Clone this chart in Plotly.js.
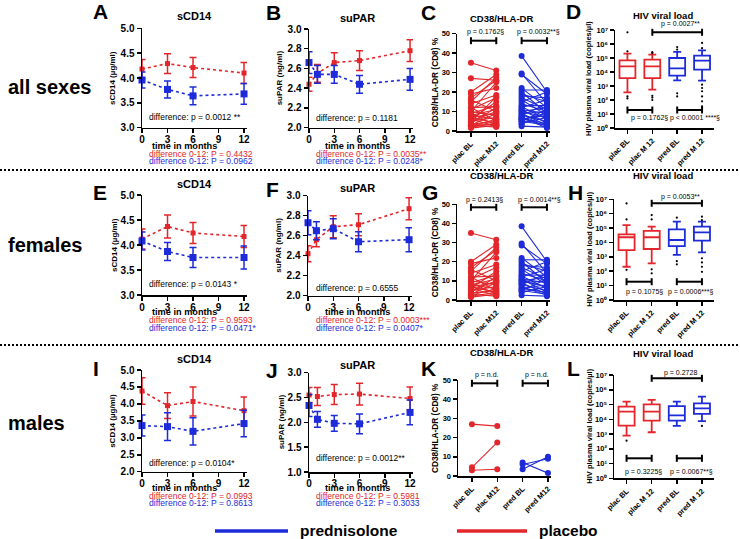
<!DOCTYPE html>
<html><head><meta charset="utf-8">
<script src="https://cdn.plot.ly/plotly-3.0.1.min.js"></script>
<style>html,body{margin:0;padding:0;background:#fff}#chart{width:740px;height:539px}</style>
</head><body><div id="chart"></div>
<script>
const RED='#e3262b', BLUE='#1d2bd9';
const FONT='Liberation Sans, Arial, sans-serif';
const W=740, H=539;

// ---- time courses ----
const monthsCD14=[0,3,6,12];
const monthsPAR=[0,1,3,6,12];
const monthTicks=[0,3,6,9,12];
// all sexes
const A_plac=[4.18,4.29,4.21,4.10], A_placErr=[0.19,0.20,0.20,0.21];
const A_pred=[3.96,3.77,3.64,3.68], A_predErr=[0.16,0.17,0.18,0.21];
const B_plac=[2.44,2.55,2.66,2.68,2.78], B_placErr=[0.07,0.09,0.10,0.10,0.11];
const B_pred=[2.66,2.54,2.54,2.44,2.49], B_predErr=[0.11,0.09,0.09,0.09,0.11];
// females
const E_plac=[4.12,4.37,4.24,4.17], E_placErr=[0.20,0.23,0.21,0.22];
const E_pred=[4.08,3.87,3.75,3.75], E_predErr=[0.18,0.18,0.20,0.23];
const F_plac=[2.42,2.56,2.69,2.71,2.87], F_placErr=[0.08,0.07,0.11,0.11,0.11];
const F_pred=[2.73,2.65,2.67,2.54,2.56], F_predErr=[0.12,0.09,0.10,0.10,0.12];
// males
const I_plac=[4.38,3.95,4.07,3.80], I_placErr=[0.39,0.38,0.43,0.40];
const I_pred=[3.36,3.33,3.19,3.42], I_predErr=[0.31,0.41,0.40,0.39];
const J_plac=[2.55,2.52,2.56,2.57,2.48], J_placErr=[0.15,0.18,0.20,0.22,0.23];
const J_pred=[2.34,2.06,1.98,1.97,2.20], J_predErr=[0.22,0.16,0.16,0.20,0.25];

// ---- CD38/HLA-DR paired values (%) ----
const pairLabels=['plac BL','plac M12','pred BL','pred M12'];
const C_placBL =[35,27,20,19,17,16,15,14,12,12,11,10,10,9,9,8,8,7,7,6,6,5,5,4.5,4,3.5,3,3,3,2.5,2,1.5];
const C_placM12=[31,26,29,22,26,10,27.5,18.5,12.5,5,17,25,8,13,3,11,6,9,4,15,2.5,7,10,17.5,12,5,9,2,3.5,6,4,3];
const C_predBL =[38.5,29.5,29,22,21,20,19,18,17,16,15,14,13,12.5,12,11,11,10,10,9,9,8,8,7,7,6,6,6,5,5,4,3.5,2.5];
const C_predM12=[20,14,19,12,21,9,15,17,11,8,20,10,13,6,16,9,4,12,7,3,10,5,14,2.5,1.5,8,4,9,11,3,7,10,2];
const G_placBL =[35,20,19,17,16,15,14,12,12,11,10,10,9,9,8,8,7,7,6,6,5,5,4,3.5,3,3,2.5,2,1.5];
const G_placM12=[31.5,29,22,26,10,27.5,18.5,12.5,5,17,25,8,13,3,11,6,9,4,15,2.5,7,10,12,5,9,2,6,4,3];
const G_predBL =[38.5,29.5,28.5,22,21,20,19,18,17,16,15,14,13,12.5,12,11,11,10,10,9,9,8,8,7,6,6,5,5,4,2.5];
const G_predM12=[20,14,19,12,21,9,15,17,11,8,20,10,13,6,16,9,4,12,7,3,10,5,14,2.5,8,4,11,3,7,2];
const K_placBL =[27,4.5,3];
const K_placM12=[26,17.5,3.5];
const K_predBL =[7,6,3.5];
const K_predM12=[1.5,9,10];

// ---- HIV viral load boxes (copies/µl): plac BL, plac M12, pred BL, pred M12 ----
const boxLabels=['plac BL','plac M 12','pred BL','pred M 12'];
const logTickText=['10⁰','10¹','10²','10³','10⁴','10⁵','10⁶','10⁷'];
const D_lo=[355,550,2500,2400], D_q1=[3700,3700,5500,14800], D_med=[25000,25000,18000,65000], D_q3=[67600,76000,100000,148000], D_hi=[204000,174000,270000,355000];
const D_out=[[6.8e6,3.0e5,180,130],[2.6e5,2.2e5,200,150,100],[6.0e5,4.0e5,300,180],[1.2e6,5.0e5,1250,720,420,180,80,35]];
const H_lo=[204,355,1350,2040], H_q1=[2950,3500,5600,13200], H_med=[23000,23000,14800,50000], H_q3=[36000,63000,81000,126000], H_hi=[162000,126000,282000,282000];
const H_out=[[5.2e6,4.0e5,126],[8.0e5,4.0e5,135,71],[5.3e5,500,300],[6.2e5,3.6e5,800,410,204,91]];
const L_lo=[776,1320,3550,7600], L_q1=[3700,8100,8100,23000], L_med=[33000,33000,18600,55000], L_q3=[72000,102000,79000,120000], L_hi=[155000,204000,155000,340000];
const L_out=[[355],[],[],[3550]];

const layout={width:W,height:H,margin:{l:0,r:0,t:0,b:0},paper_bgcolor:'#fff',plot_bgcolor:'rgba(0,0,0,0)',
  showlegend:false,boxmode:'overlay',font:{family:FONT,color:'#000'},annotations:[],shapes:[]};
const traces=[];
const xid=n=>n===1?'x':'x'+n, yid=n=>n===1?'y':'y'+n;
const tf=(s)=>({family:FONT,size:s,color:'#000',weight:700});

function axes(n,b,xo,yo){
  const common={showline:true,linecolor:'#000',linewidth:1.5,ticks:'outside',ticklen:4,tickwidth:1.5,tickcolor:'#000',
    showgrid:false,zeroline:false,automargin:false,fixedrange:true};
  layout['xaxis'+(n===1?'':n)]=Object.assign({},common,{domain:[b[0]/W,b[1]/W],anchor:yid(n)},xo);
  layout['yaxis'+(n===1?'':n)]=Object.assign({},common,{domain:[1-b[3]/H,1-b[2]/H],anchor:xid(n)},yo);
}
function txt(text,x,y,size,opt={}){
  layout.annotations.push(Object.assign({text:text,x:x/W,y:1-y/H,xref:'paper',yref:'paper',showarrow:false,
    xanchor:'center',yanchor:'middle',font:{family:FONT,size:size,color:opt.color||'#000',weight:opt.bold?700:400}},opt.extra||{}));
}
function bracket(n,xa,xb,ypx){
  const ln={color:'#000',width:2};
  layout.shapes.push({type:'line',xref:xid(n),yref:'paper',x0:xa,x1:xb,y0:1-ypx/H,y1:1-ypx/H,line:ln});
  [xa,xb].forEach(v=>layout.shapes.push({type:'line',xref:xid(n),yref:'paper',x0:v,x1:v,y0:1-(ypx-3.5)/H,y1:1-(ypx+3.5)/H,line:ln}));
}
function series(n,x,y,e,color,size){
  return {type:'scatter',mode:'lines+markers',x:x,y:y,xaxis:xid(n),yaxis:yid(n),cliponaxis:false,
    line:{color:color,width:1.6,dash:'dot'},marker:{color:color,symbol:'square',size:size},
    error_y:{type:'data',array:e,visible:true,color:color,thickness:1.5,width:3.5}};
}
function timePanel(n,b,months,pv,pe,bv,be,yr,dt,so){
  axes(n,b,{range:[0,12.35],tickmode:'array',tickvals:monthTicks,ticktext:monthTicks.map(String),tickfont:tf(10),ticklabelstandoff:so},
    {range:yr,tick0:yr[0],dtick:dt,tickformat:'.1f',tickfont:tf(10)});
  traces.push(series(n,months,pv,pe,RED,5));
  traces.push(series(n,months,bv,be,BLUE,7));
}
function pairTrace(n,bl,m12,x0,color){
  const xs=[],ys=[];
  bl.forEach((v,i)=>{xs.push(x0,x0+1,null);ys.push(v,m12[i],null);});
  return {type:'scatter',mode:'lines+markers',x:xs,y:ys,xaxis:xid(n),yaxis:yid(n),cliponaxis:false,
    line:{color:color,width:1.1},marker:{color:color,size:6}};
}
function pairPanel(n,b,pBL,pM,dBL,dM){
  axes(n,b,{range:[-0.55,3.12],tickmode:'array',tickvals:[0,1,2,3],ticktext:pairLabels,tickangle:-45,tickfont:tf(7.5)},
    {range:[0,50],dtick:10,tickfont:tf(7.5)});
  traces.push(pairTrace(n,pBL,pM,0,RED));
  traces.push(pairTrace(n,dBL,dM,2,BLUE));
}
function boxPanel(n,b,lo,q1,med,q3,hi,out){
  axes(n,b,{range:[-0.5,3.48],tickmode:'array',tickvals:[0,1,2,3],ticktext:boxLabels,tickangle:-45,tickfont:tf(7.5)},
    {type:'log',range:[0,7],tickmode:'array',tickvals:[1,10,100,1e3,1e4,1e5,1e6,1e7],
     ticktext:logTickText,tickfont:tf(7.5)});
  const cols=[RED,RED,BLUE,BLUE];
  for(let i=0;i<4;i++){
    traces.push({type:'box',x:[i],q1:[q1[i]],median:[med[i]],q3:[q3[i]],lowerfence:[lo[i]],upperfence:[hi[i]],
      xaxis:xid(n),yaxis:yid(n),width:0.64,whiskerwidth:0.5,boxpoints:false,fillcolor:'rgba(255,255,255,0)',
      line:{color:cols[i],width:1.8},hoverinfo:'skip'});
    traces.push({type:'scatter',mode:'markers',x:out[i].map(()=>i),y:out[i],xaxis:xid(n),yaxis:yid(n),
      marker:{color:'#000',size:2.2}});
  }
}

// panel boxes in pixels [x0,x1,yTop,yBottom]
const PB={A:[142,247,28.3,127.7],B:[309,413,29,127.7],C:[457,550,33.5,131],D:[615,714,30,128],
  E:[142,247,195,295],F:[308,412,195.7,295.7],G:[457,550,204.3,300],H:[614,714,199.3,300],
  I:[142,247,370,471.7],J:[309,413,372.7,472],K:[458,551,380,476],L:[614,714,375,478.3]};

timePanel(1,PB.A,monthsCD14,A_plac,A_placErr,A_pred,A_predErr,[3,5],0.5,-2);
timePanel(2,PB.B,monthsPAR,B_plac,B_placErr,B_pred,B_predErr,[2,3],0.2,-2);
pairPanel(3,PB.C,C_placBL,C_placM12,C_predBL,C_predM12);
boxPanel(4,PB.D,D_lo,D_q1,D_med,D_q3,D_hi,D_out);
timePanel(5,PB.E,monthsCD14,E_plac,E_placErr,E_pred,E_predErr,[3,5],0.5,-2);
timePanel(6,PB.F,monthsPAR,F_plac,F_placErr,F_pred,F_predErr,[2,3],0.2,-2);
pairPanel(7,PB.G,G_placBL,G_placM12,G_predBL,G_predM12);
boxPanel(8,PB.H,H_lo,H_q1,H_med,H_q3,H_hi,H_out);
timePanel(9,PB.I,monthsCD14,I_plac,I_placErr,I_pred,I_predErr,[2,5],0.5,-2);
timePanel(10,PB.J,monthsPAR,J_plac,J_placErr,J_pred,J_predErr,[1,3],0.5,-3);
pairPanel(11,PB.K,K_placBL,K_placM12,K_predBL,K_predM12);
boxPanel(12,PB.L,L_lo,L_q1,L_med,L_q3,L_hi,L_out);

// row labels
txt('all sexes',6,87,20,{bold:true,extra:{xanchor:'left'}});
txt('females',6,245,20,{bold:true,extra:{xanchor:'left'}});
txt('males',6,423,20,{bold:true,extra:{xanchor:'left'}});
// panel letters
[['A',100,12],['B',273,13],['C',428,13],['D',573,12],['E',100,192],['F',272,190],['G',430,192],['H',575,192],
 ['I',96,368],['J',272,370],['K',428,368],['L',573,368]].forEach(a=>txt(a[0],a[1],a[2],21,{bold:true}));
// titles
[['sCD14',195,16],['suPAR',357,18],['CD38/HLA-DR',502,18],['HIV viral load',663,16],
 ['sCD14',195,184],['suPAR',357,188],['CD38/HLA-DR',502,176],['HIV viral load',663,175],
 ['sCD14',195,359],['suPAR',357,365],['CD38/HLA-DR',502,352],['HIV viral load',663,353]].forEach(a=>txt(a[0],a[1],a[2],a[0].length>6?9.5:11,{bold:true}));
// y titles
const rowsY=[[PB.A,PB.B,PB.C,PB.D],[PB.E,PB.F,PB.G,PB.H],[PB.I,PB.J,PB.K,PB.L]];
const yTitles=['sCD14 (µg/ml)','suPAR (ng/ml)','CD38/HLA-DR (CD8) %','HIV plasma viral load (copies/µl)'];
const yTitleX=[[113,279,435,588],[114,279,435,590],[113,281,435,590]];
const yTitleSize=[8,8,8.3,7.5];
rowsY.forEach((row,r)=>row.forEach((b,c)=>txt(yTitles[c],yTitleX[r][c],(b[2]+b[3])/2,yTitleSize[c],{bold:true,extra:{textangle:-90}})));
// time axis titles and stats texts
const tRows=[{time:[146,146],red:153.8,blue:161.3,diff:[117,118.3]},{time:[312,312],red:320.2,blue:328,diff:[283.7,287.7]},{time:[487.5,488.3],red:495.6,blue:503,diff:[462.7,458.3]}];
const diffTxt=[['difference: p = 0.0012 **','difference: p = 0.1181'],['difference: p = 0.0143 *','difference: p = 0.6555'],['difference: p = 0.0104*','difference: p = 0.0012**']];
const redTxt=[['difference 0-12: P = 0.4432','difference 0-12: P = 0.0035**'],['difference 0-12: P = 0.9593','difference 0-12: P = 0.0003***'],['difference 0-12: P = 0.0993','difference 0-12: P = 0.5981']];
const blueTxt=[['difference 0-12: P = 0.0962','difference 0-12: P = 0.0248*'],['difference 0-12: P = 0.0471*','difference 0-12: P = 0.0407*'],['difference 0-12: P = 0.8613','difference 0-12: P = 0.3033']];
const colLeft=[147,313.5], timeX=[184,357];
tRows.forEach((t,r)=>{
  for(let c=0;c<2;c++){
    txt('time in months',timeX[c],t.time[c],9.2,{bold:true});
    txt(diffTxt[r][c],colLeft[c],t.diff[c],8.5,{extra:{xanchor:'left'}});
    txt(redTxt[r][c],colLeft[c],t.red,8.6,{color:RED,extra:{xanchor:'left'}});
    txt(blueTxt[r][c],colLeft[c],t.blue,8.6,{color:BLUE,extra:{xanchor:'left'}});
  }
});
// paired-panel brackets
[[3,40.7,31.7,'p = 0.1762§','p = 0.0032**§',485.5,515],[7,207.3,200,'p = 0.2413§','p = 0.0014**§',484,516],[11,383.3,375,'p = n.d.','p = n.d.',487,523]].forEach(p=>{
  bracket(p[0],0,1,p[1]); bracket(p[0],2,3,p[1]);
  txt(p[3],p[5],p[2],7);
  txt(p[4],p[6],p[2],7,{extra:{xanchor:'left'}});
});
// box-panel brackets
[[4,32.3,24.3,110,118,'p = 0.0027**','p = 0.1762§','p < 0.0001 ****§',649,695],
 [8,203.3,196.7,281.7,291.7,'p = 0.0053**','p = 0.1075§','p = 0.0006***§',644,690],
 [12,378.3,372.7,458.3,471.7,'p = 0.2728','p = 0.3225§','p = 0.0067**§',643,691]].forEach(p=>{
  bracket(p[0],1,3,p[1]); bracket(p[0],0,1,p[3]); bracket(p[0],2,3,p[3]);
  txt(p[5],680,p[2],7); txt(p[6],p[8],p[4],7); txt(p[7],p[9],p[4],7);
});
// dotted separators
[170,345].forEach(y=>layout.shapes.push({type:'line',xref:'paper',yref:'paper',x0:0,x1:1,y0:1-y/H,y1:1-y/H,line:{color:'#000',width:2,dash:'2px,2px'}}));
// legend
layout.shapes.push({type:'line',xref:'paper',yref:'paper',x0:215/W,x1:288/W,y0:1-531/H,y1:1-531/H,line:{color:BLUE,width:3.5}});
layout.shapes.push({type:'line',xref:'paper',yref:'paper',x0:457/W,x1:527/W,y0:1-531/H,y1:1-531/H,line:{color:RED,width:3.5}});
txt('prednisolone',298,530,15.5,{bold:true,extra:{xanchor:'left'}});
txt('placebo',537,530,15.5,{bold:true,extra:{xanchor:'left'}});

Plotly.newPlot('chart',traces,layout,{staticPlot:true,displayModeBar:false});
</script></body></html>
